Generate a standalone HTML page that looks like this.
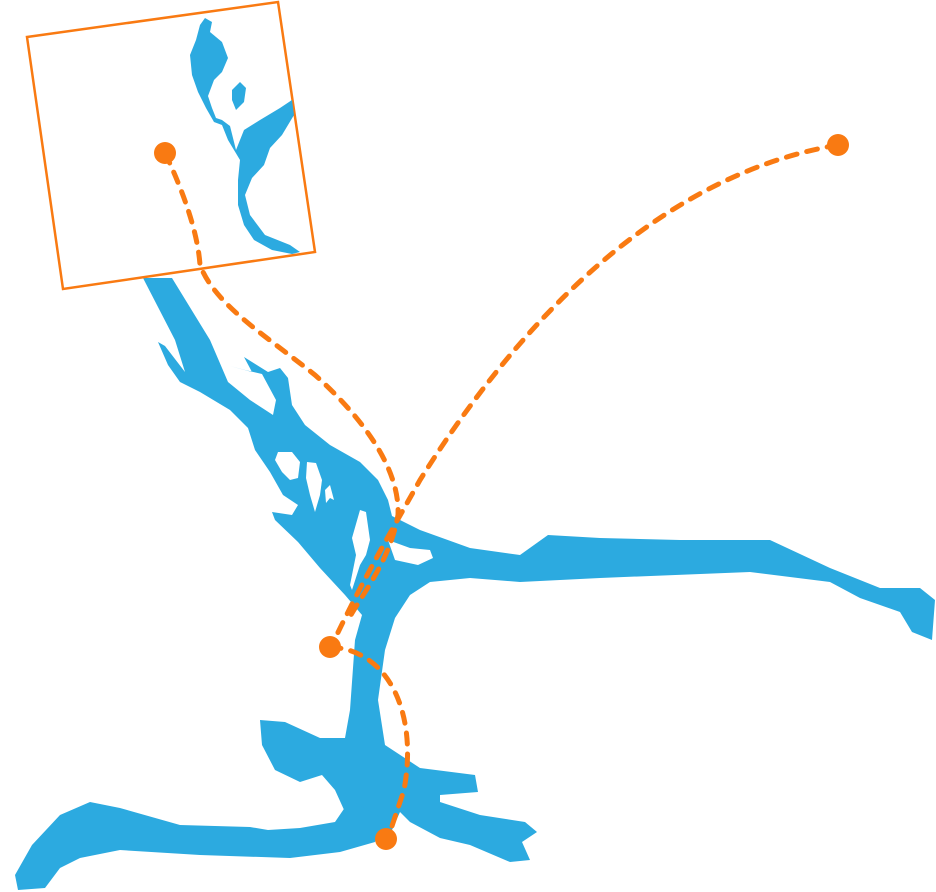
<!DOCTYPE html>
<html><head><style>body{margin:0;background:#fff}svg{display:block}</style></head>
<body>
<svg width="936" height="892" viewBox="0 0 936 892" xmlns="http://www.w3.org/2000/svg">
<g fill="#2caae0">
<polygon points="143,278 172,278 210,340 228,382 250,400 273,415 276,400 262,374 245,370 230,366 252,372 244,357 268,372 280,368 288,378 292,405 305,425 330,445 360,462 378,480 388,500 392,516 420,530 470,548 520,555 548,535 600,538 680,540 770,540 830,568 880,588 920,588 935,600 932,640 912,632 900,612 860,598 830,582 750,572 600,578 520,582 470,578 430,582 410,595 395,618 385,650 378,700 385,745 420,768 475,775 478,792 440,795 440,802 480,815 525,822 537,832 522,842 530,860 510,862 470,845 440,838 410,822 400,812 392,830 376,832 345,812 335,790 322,775 300,782 275,770 262,745 260,720 285,722 320,738 345,738 350,710 355,640 362,615 345,595 320,568 298,542 275,520 272,512 292,515 298,505 283,495 270,472 255,450 248,428 230,410 200,392 180,382 168,365 158,342 165,346 185,372 175,340"/>
<polygon points="350,800 335,822 300,828 268,830 250,827 180,825 120,808 90,802 60,815 32,845 15,875 18,890 45,888 60,868 80,858 120,850 200,855 290,858 340,852 375,842 385,820"/>
</g>
<g fill="#fff">
<polygon points="278,452 292,452 300,462 298,478 290,480 282,472 275,460"/>
<polygon points="307,462 316,463 322,480 320,495 315,512 310,495 306,478"/>
<polygon points="325,490 330,485 334,500 330,498 326,503"/>
<polygon points="360,510 366,512 370,540 366,555 360,565 352,590 350,585 356,555 352,538"/>
<polygon points="388,540 410,548 430,550 433,558 418,565 395,560"/>
</g>
<polygon points="27,37 278,2 315,252 63,289" fill="none" stroke="#f97a12" stroke-width="2.5"/>
<g fill="#2caae0">
<polygon points="205,18 212,22 210,32 222,42 228,58 222,72 214,80 208,96 212,108 216,118 222,120 230,126 236,150 244,130 260,120 280,108 292,100 294,115 282,135 270,148 264,165 252,178 245,195 250,215 265,235 290,245 300,252 292,254 272,250 254,240 244,225 238,205 238,180 240,160 228,140 222,125 214,122 206,108 198,92 192,75 190,55 196,40 200,25"/>
<polygon points="232,90 240,82 246,88 244,102 236,110 232,100"/>
</g>
<g fill="none" stroke="#f97a12" stroke-width="5" stroke-dasharray="11 10" stroke-linecap="round">
<path d="M165,153 C185,195 198,235 200,265 C215,305 265,335 315,375 C365,420 400,470 398,515 C390,560 365,590 348,620"/>
<path d="M838,145 C660,175 520,320 420,480 C395,525 365,575 332,645"/>
<path d="M330,647 C390,650 418,715 404,790 L388,838"/>
</g>
<g fill="#f97a12">
<circle cx="165" cy="153" r="11"/>
<circle cx="838" cy="145" r="11"/>
<circle cx="330" cy="647" r="11"/>
<circle cx="386" cy="839" r="11"/>
</g>
</svg>
</body></html>
